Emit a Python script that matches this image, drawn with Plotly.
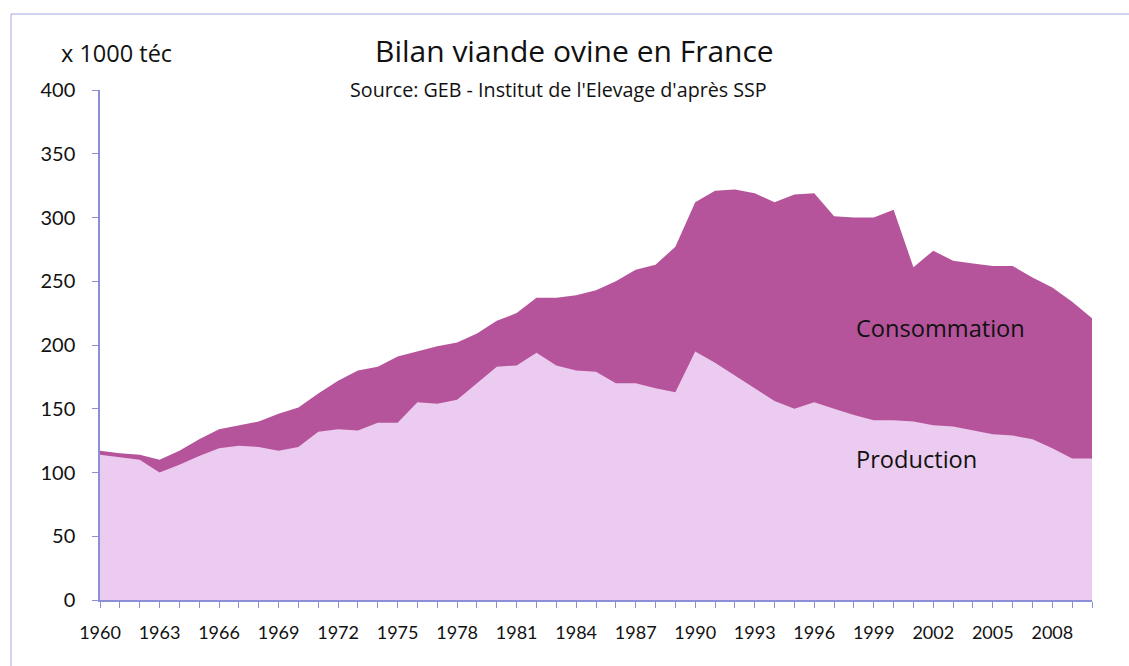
import plotly.graph_objects as go

# Years covered by the balance sheet
years = list(range(1960, 2011))

# Domestic sheep-meat production, thousand tonnes carcass-weight equivalent
production = [
    114, 112, 110, 100, 106, 113, 119, 121, 120, 117,
    120, 132, 134, 133, 139, 139, 155, 154, 157, 170,
    183, 184, 194, 184, 180, 179, 170, 170, 166, 163,
    195, 186, 176, 166, 156, 150, 155, 150, 145, 141,
    141, 140, 137, 136, 133, 130, 129, 126, 119, 111,
    111,
]

# Apparent consumption, same unit
consommation = [
    117, 115, 114, 110, 117, 126, 134, 137, 140, 146,
    151, 162, 172, 180, 183, 191, 195, 199, 202, 209,
    219, 225, 237, 237, 239, 243, 250, 259, 263, 277,
    312, 321, 322, 319, 312, 318, 319, 301, 300, 300,
    306, 261, 274, 266, 264, 262, 262, 253, 245, 234,
    221,
]

# Tick labels every third year, ticks every year
tick_labels = [str(y) if (y - 1960) % 3 == 0 else "" for y in years]
y_ticks = [0, 50, 100, 150, 200, 250, 300, 350, 400]

TICK_FONT = "Lato"
TEXT_FONT = "Open Sans"
AXIS_COLOR = "#8a8fd6"
COL_CONSO = "#b6549b"
COL_PROD = "#ebcbef"
INK = "#111111"

fig = go.Figure()

fig.add_trace(go.Scatter(
    x=years, y=consommation, mode="lines", fill="tozeroy",
    line=dict(width=0, color=COL_CONSO), fillcolor=COL_CONSO,
    name="Consommation", hoverinfo="x+y",
))
fig.add_trace(go.Scatter(
    x=years, y=production, mode="lines", fill="tozeroy",
    line=dict(width=0, color=COL_PROD), fillcolor=COL_PROD,
    name="Production", hoverinfo="x+y",
))

fig.update_layout(
    width=1129, height=666,
    margin=dict(l=100, r=37, t=90, b=66),
    paper_bgcolor="white", plot_bgcolor="white",
    showlegend=False,
    font=dict(family=TEXT_FONT, color=INK),
    xaxis=dict(
        range=[1960, 2010], tickmode="array", tickvals=years, ticktext=tick_labels,
        showgrid=False, zeroline=False, showline=True, linecolor=AXIS_COLOR, linewidth=1.5,
        ticks="outside", ticklen=6, tickcolor=AXIS_COLOR, tickwidth=1,
        tickfont=dict(family=TICK_FONT, size=18, color=INK),
        ticklabelstandoff=10,
    ),
    yaxis=dict(
        range=[0, 400], tickmode="array", tickvals=y_ticks,
        showgrid=False, zeroline=False, showline=True, linecolor=AXIS_COLOR, linewidth=1.5,
        ticks="outside", ticklen=6, tickcolor=AXIS_COLOR, tickwidth=1,
        tickfont=dict(family=TICK_FONT, size=20, color=INK),
        ticklabelstandoff=13,
    ),
)

# Outer frame of the chart (top and left edges visible)
fig.add_shape(
    type="rect", xref="paper", yref="paper",
    x0=(11 - 100) / 992, x1=(1160 - 100) / 992,
    y0=(600 - 700) / 510, y1=(600 - 14) / 510,
    line=dict(color="#a3a6e0", width=1), fillcolor="rgba(0,0,0,0)", layer="below",
)

# Titles
fig.add_annotation(
    text="Bilan viande ovine en France", xref="paper", yref="paper",
    x=(574 - 100) / 992, y=(600 - 50) / 510, xanchor="center", yanchor="middle",
    showarrow=False, font=dict(family=TEXT_FONT, size=30, color=INK),
)
fig.add_annotation(
    text="Source: GEB - Institut de l'Elevage d'après SSP", xref="paper", yref="paper",
    x=(558 - 100) / 992, y=(600 - 89) / 510, xanchor="center", yanchor="middle",
    showarrow=False, font=dict(family=TEXT_FONT, size=19.7, color=INK),
)
fig.add_annotation(
    text="x 1000 téc", xref="paper", yref="paper",
    x=(59 - 100) / 992, y=(600 - 53) / 510, xanchor="left", yanchor="middle",
    showarrow=False, font=dict(family=TEXT_FONT, size=23.5, color=INK),
)

# Series labels inside the areas
fig.add_annotation(
    text="Consommation", x=1998.0, y=213, xanchor="left", yanchor="middle",
    showarrow=False, font=dict(family=TEXT_FONT, size=23.6, color=INK),
)
fig.add_annotation(
    text="Production", x=1998.0, y=110.6, xanchor="left", yanchor="middle",
    showarrow=False, font=dict(family=TEXT_FONT, size=23.6, color=INK),
)

fig.write_html("out.html")
